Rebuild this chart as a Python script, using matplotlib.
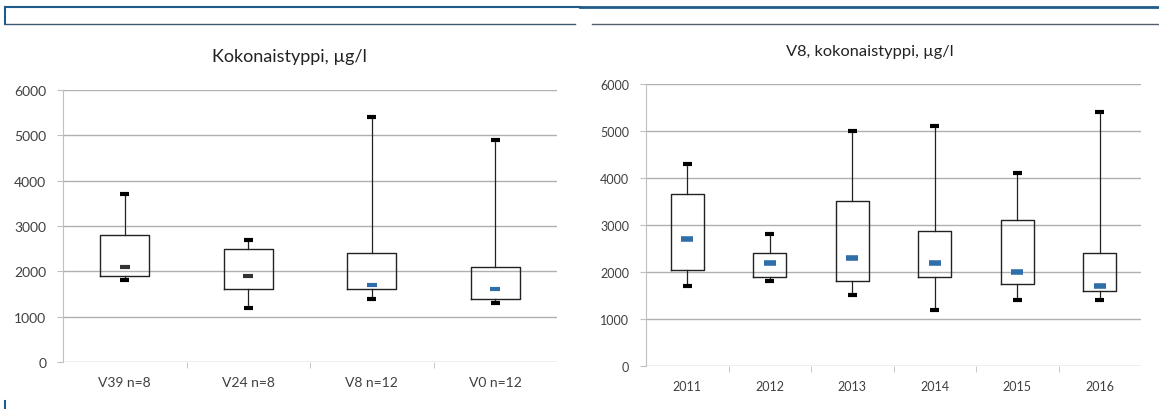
import matplotlib
matplotlib.use("Agg")
import matplotlib.pyplot as plt
from matplotlib.lines import Line2D

plt.rcParams["font.family"] = ["Lato", "DejaVu Sans"]

# left panel: sites
site_labels = ["V39 n=8", "V24 n=8", "V8 n=12", "V0 n=12"]
site_q1 = [1900, 1600, 1600, 1400]
site_q3 = [2800, 2500, 2400, 2100]
site_lo = [1800, 1200, 1400, 1300]
site_hi = [3700, 2700, 5400, 4900]
site_mean = [2100, 1900, 1700, 1600]
site_mean_colors = ["#333333", "#333333", "#2f6ea8", "#2f6ea8"]

# right panel: V8 by year
years = ["2011", "2012", "2013", "2014", "2015", "2016"]
year_q1 = [2050, 1900, 1800, 1900, 1750, 1600]
year_q3 = [3650, 2400, 3500, 2880, 3100, 2400]
year_lo = [1700, 1800, 1500, 1200, 1400, 1400]
year_hi = [4300, 2800, 5000, 5100, 4100, 5400]
year_mean = [2700, 2200, 2300, 2200, 2000, 1700]
year_mean_colors = ["#2f6ea8"] * 6

GRID = "#b0b0b0"


def draw_panel(ax, labels, q1, q3, lo, hi, mean, mcolors, capw, msize, mew, tick_fs):
    stats = []
    for i in range(len(labels)):
        stats.append(dict(med=mean[i], q1=q1[i], q3=q3[i],
                          whislo=lo[i], whishi=hi[i], mean=mean[i], fliers=[]))
    pos = list(range(len(labels)))
    ax.bxp(stats, positions=pos, widths=0.4, showmeans=False,
           boxprops=dict(color="#222222", linewidth=1.0),
           whiskerprops=dict(color="#222222", linewidth=0.9),
           capprops=dict(color="black", linewidth=3.0, solid_capstyle="butt"),
           medianprops=dict(linewidth=0),
           capwidths=capw, zorder=3)
    for x, m, c in zip(pos, mean, mcolors):
        ax.plot(x, m, marker="_", markersize=msize, markeredgewidth=mew,
                color=c, zorder=4)
    ax.set_xlim(-0.5, len(labels) - 0.5)
    ax.set_ylim(0, 6000)
    ax.set_yticks(range(0, 6001, 1000))
    ax.set_xticks(pos)
    ax.set_xticklabels(labels)
    ax.set_xticks([p + 0.5 for p in pos[:-1]], minor=True)
    ax.grid(axis="y", color=GRID, linewidth=1.0, zorder=0)
    ax.set_axisbelow(True)
    for s in ["top", "right", "bottom"]:
        ax.spines[s].set_visible(False)
    ax.spines["left"].set_color("#bfbfbf")
    ax.tick_params(axis="y", length=4, color="#bfbfbf", labelsize=tick_fs,
                   labelcolor="#404040", pad=8)
    ax.tick_params(axis="x", which="major", length=0, labelsize=tick_fs,
                   labelcolor="#404040", pad=10)
    ax.tick_params(axis="x", which="minor", length=4, color="#bfbfbf")


fig = plt.figure(figsize=(11.59, 4.10), dpi=100)

ax1 = fig.add_axes([0.0544, 0.1146, 0.4262, 0.6634])
draw_panel(ax1, site_labels, site_q1, site_q3, site_lo, site_hi,
           site_mean, site_mean_colors, 0.075, 6.5, 3, 10)

ax2 = fig.add_axes([0.5574, 0.1049, 0.4271, 0.6878])
draw_panel(ax2, years, year_q1, year_q3, year_lo, year_hi,
           year_mean, year_mean_colors, 0.11, 9, 4, 9)

fig.text(0.250, 0.861, "Kokonaistyppi, µg/l", ha="center", va="center",
         fontsize=13, color="#222222")
fig.text(0.7506, 0.873, "V8, kokonaistyppi, µg/l", ha="center", va="center",
         fontsize=11.8, color="#222222")

# page decorations (blue frame bits from the source document)
W, H = 1159, 410
def fline(xs, ys, color, lw):
    fig.add_artist(Line2D([x / W for x in xs], [1 - y / H for y in ys],
                          color=color, linewidth=lw))

fline([5, 580], [8, 8], "#1f5c8b", 1.5)
fline([5, 5], [8, 25], "#1f5c8b", 1.5)
fline([5, 575], [25, 25], "#3d5870", 1.0)
fline([580, 1159], [8, 8], "#1f5c8b", 2.0)
fline([592, 1159], [25, 25], "#555f6b", 1.0)
fline([5, 5], [402, 410], "#1f5c8b", 1.5)

fig.savefig("out.png", dpi=100)
